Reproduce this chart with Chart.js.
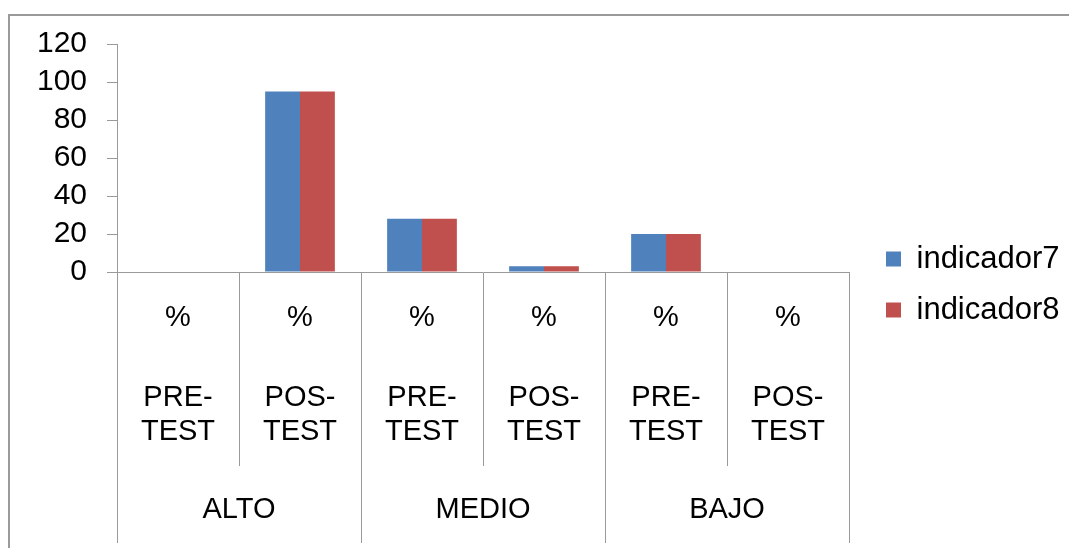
<!DOCTYPE html>
<html>
<head>
<meta charset="utf-8">
<script src="https://cdn.jsdelivr.net/npm/chart.js@4"></script>
<style>
  html, body { margin: 0; padding: 0; background: #fff; }
  #wrap { position: relative; width: 1069px; height: 548px; overflow: hidden; }
  #frame { position: absolute; left: 8px; top: 14px; width: 1100px; height: 600px;
           border-left: 2px solid #9a9a9a; border-top: 2px solid #9a9a9a; }
  canvas { position: absolute; left: 0; top: 0; }
</style>
</head>
<body>
<div id="wrap">
  <div id="frame"></div>
  <canvas id="chart" width="1069" height="548"></canvas>
</div>
<script>
// data
const units = ["%", "%", "%", "%", "%", "%"];
const phases = [["PRE-", "TEST"], ["POS-", "TEST"], ["PRE-", "TEST"], ["POS-", "TEST"], ["PRE-", "TEST"], ["POS-", "TEST"]];
const groups = ["ALTO", "MEDIO", "BAJO"];
const indicador7 = [0, 95, 28, 3, 20, 0];
const indicador8 = [0, 95, 28, 3, 20, 0];
const yMin = 0, yMax = 120, yStep = 20;

const lineGray = "#9a9a9a";
Chart.defaults.font.family = '"Liberation Sans", Arial, sans-serif';
Chart.defaults.color = "#000";

const ctx = document.getElementById("chart").getContext("2d");
new Chart(ctx, {
    type: "bar",
    data: {
        labels: units,
        datasets: [
            { label: "indicador7", data: indicador7, backgroundColor: "#4f81bd", borderWidth: 0 },
            { label: "indicador8", data: indicador8, backgroundColor: "#c0504d", borderWidth: 0 },
        ],
    },
    options: {
        responsive: false,
        animation: false,
        layout: { padding: { top: 44, bottom: 23, left: 0, right: 0 } },
        datasets: { bar: { categoryPercentage: 2 / 3.5, barPercentage: 1 } },
        plugins: {
            tooltip: { enabled: false },
            legend: {
                position: "right",
                maxWidth: 203,
                labels: { boxWidth: 15, boxHeight: 15, padding: 20, font: { size: 31 }, color: "#000" },
            },
        },
        scales: {
            y: {
                min: yMin, max: yMax,
                ticks: { stepSize: yStep, autoSkip: false, padding: 20, font: { size: 30 } },
                grid: { drawOnChartArea: false, tickLength: 10, color: lineGray },
                border: { color: lineGray },
                afterFit: (s) => { s.width = 117; },
            },
            gap: {
                type: "linear", position: "right", display: true,
                ticks: { display: false }, grid: { display: false }, border: { display: false },
                afterFit: (s) => { s.width = 17; },
            },
            x: {
                weight: 0, offset: true,
                ticks: { padding: -49, autoSkip: false, maxRotation: 0, font: { size: 29 } },
                grid: { offset: true, drawOnChartArea: false, tickLength: 78, color: lineGray },
                border: { color: lineGray },
                afterFit: (s) => { s.height = 78; },
            },
            x1: {
                type: "category", labels: phases, position: "bottom", weight: 1, offset: true,
                ticks: { padding: -85, autoSkip: false, maxRotation: 0, font: { size: 29, lineHeight: 1.17 } },
                grid: { offset: true, drawOnChartArea: false, tickLength: 116, color: lineGray },
                border: { display: false },
                afterFit: (s) => { s.height = 116; },
            },
            x2: {
                type: "category", labels: groups, position: "bottom", weight: 2, offset: true,
                ticks: { padding: -50, autoSkip: false, maxRotation: 0, font: { size: 29 } },
                grid: { offset: true, drawOnChartArea: false, tickLength: 77, color: lineGray },
                border: { display: false },
                afterFit: (s) => { s.height = 59; },
            },
        },
    },
});
</script>
</body>
</html>
